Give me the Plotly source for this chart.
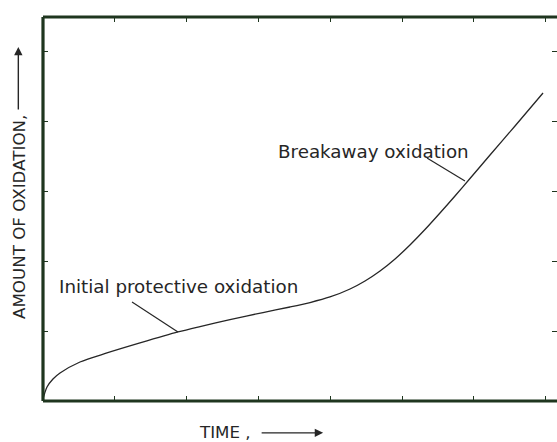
import plotly.graph_objects as go

# Curve (arbitrary units; x tick spacing = 1, y tick spacing = 1)
time = [0.0, 0.056, 0.139, 0.237, 0.515, 0.891, 1.351, 1.880, 2.187, 2.604, 3.064,
        3.440, 3.719, 3.997, 4.276, 4.485, 4.694, 4.903, 5.111, 5.320, 5.529, 5.738,
        5.947, 6.226, 6.574, 6.964]
oxidation = [0.03, 0.20, 0.314, 0.40, 0.557, 0.686, 0.829, 0.986, 1.064, 1.164, 1.264,
             1.343, 1.407, 1.486, 1.60, 1.714, 1.857, 2.029, 2.229, 2.45, 2.686, 2.929,
             3.179, 3.514, 3.929, 4.40]

x_ticks = [1, 2, 3, 4, 5, 6, 7]
y_ticks = [1, 2, 3, 4, 5]

label_initial = "Initial protective oxidation"
label_breakaway = "Breakaway oxidation"
x_title = "TIME ,"
y_title = "AMOUNT OF OXIDATION,"

# label anchor points and leader lines (data units)
initial_text = (1.894, 1.63)
initial_leader = [(1.24, 1.414), (1.88, 0.986)]
breakaway_text = (4.60, 3.57)
breakaway_leader = [(5.348, 3.471), (5.877, 3.143)]

FRAME = "#1f361f"
INK = "#262626"
FONT = "DejaVu Sans"

fig = go.Figure()
fig.add_trace(go.Scatter(x=time, y=oxidation, mode="lines",
                         line=dict(color=INK, width=1.3, shape="spline", smoothing=0.8),
                         hoverinfo="skip", showlegend=False))

for (x0, y0), (x1, y1) in [initial_leader, breakaway_leader]:
    fig.add_shape(type="line", xref="x", yref="y", x0=x0, y0=y0, x1=x1, y1=y1,
                  line=dict(color=INK, width=1.2))

# frame (left, top, bottom); right edge lies beyond the picture
for (x0, y0, x1, y1) in [(0, 0, 0, 1), (0, 1, 1.05, 1), (0, 0, 1.05, 0)]:
    fig.add_shape(type="line", xref="paper", yref="paper", x0=x0, y0=y0, x1=x1, y1=y1,
                  line=dict(color=FRAME, width=3.2))

fig.add_annotation(x=initial_text[0], y=initial_text[1], xref="x", yref="y",
                   text=label_initial, showarrow=False,
                   font=dict(family=FONT, size=18.3, color=INK))
fig.add_annotation(x=breakaway_text[0], y=breakaway_text[1], xref="x", yref="y",
                   text=label_breakaway, showarrow=False,
                   font=dict(family=FONT, size=18.3, color=INK))

# axis titles with arrows
fig.add_annotation(x=-0.048, y=0.48, xref="paper", yref="paper", text=y_title,
                   textangle=-90, showarrow=False, xanchor="center", yanchor="middle",
                   font=dict(family=FONT, size=16.7, color=INK))
fig.add_annotation(x=-0.048, y=0.922, xref="paper", yref="paper", text="",
                   showarrow=True, ax=0, ay=64, arrowhead=2, arrowsize=1.2,
                   arrowwidth=1.4, arrowcolor=INK)
fig.add_annotation(x=0.354, y=-0.081, xref="paper", yref="paper", text=x_title,
                   showarrow=False, xanchor="center", yanchor="middle",
                   font=dict(family=FONT, size=16.7, color=INK))
fig.add_annotation(x=0.545, y=-0.083, xref="paper", yref="paper", text="",
                   showarrow=True, ax=-63, ay=0, arrowhead=2, arrowsize=1.2,
                   arrowwidth=1.4, arrowcolor=INK)

axis_common = dict(showgrid=False, zeroline=False, showline=False, ticks="inside",
                   ticklen=5, tickwidth=1.4, tickcolor=FRAME, mirror="ticks",
                   showticklabels=False, fixedrange=True)
fig.update_xaxes(range=[0, 514 / 71.8], tickvals=x_ticks, **axis_common)
fig.update_yaxes(range=[0, 384 / 70], tickvals=y_ticks, **axis_common)

fig.update_layout(width=557, height=442, margin=dict(l=43, r=0, t=17, b=41),
                  plot_bgcolor="white", paper_bgcolor="white")

fig.write_html("out.html", config={"displayModeBar": False},
               post_script="document.body.style.margin='0';"
                           "document.body.style.overflow='hidden';")
